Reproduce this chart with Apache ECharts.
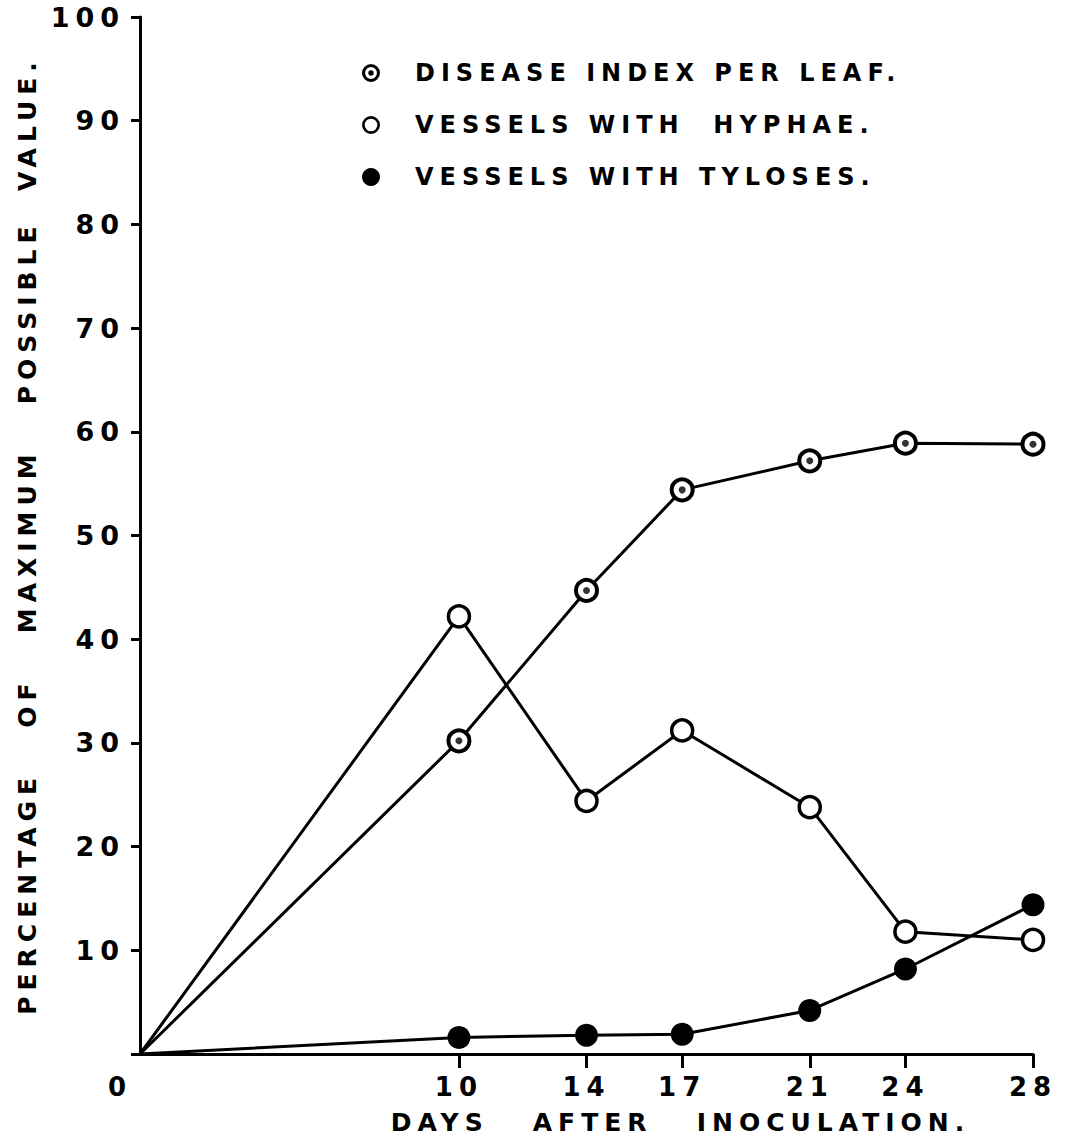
<!DOCTYPE html>
<html><head><meta charset="utf-8">
<script src="https://cdn.jsdelivr.net/npm/echarts@6/dist/echarts.min.js"></script>
<style>
html,body{margin:0;padding:0;background:#fff;}
#chart{width:1069px;height:1140px;}
#chart text{letter-spacing:6px;}
</style></head><body><div id="chart"></div>
<script>
// Data
const days = [0, 10, 14, 17, 21, 24, 28];
const diseaseIndex = [0, 30.2, 44.7, 54.4, 57.2, 58.9, 58.8];
const hyphae = [0, 42.2, 24.4, 31.2, 23.8, 11.8, 11.0];
const tyloses = [0, 1.6, 1.8, 1.9, 4.2, 8.2, 14.4];
const xTickValues = [10, 14, 17, 21, 24, 28];
const xLabelValues = [0, 10, 14, 17, 21, 24, 28];
const names = ['DISEASE INDEX PER LEAF.', 'VESSELS WITH  HYPHAE.', 'VESSELS WITH TYLOSES.'];
const yTitle = 'PERCENTAGE\u00A0\u00A0\u00A0OF\u00A0\u00A0\u00A0MAXIMUM\u00A0\u00A0\u00A0POSSIBLE\u00A0\u00A0VALUE.';
const xTitle = 'DAYS\u00A0\u00A0\u00A0AFTER\u00A0\u00A0\u00A0INOCULATION.';

const FONT = 'DejaVu Sans';
function pairs(vals) {
  return days.map((d, i) => i === 0 ? { value: [d, vals[i]], symbol: 'none' } : [d, vals[i]]);
}
const ring = 'path://M10,0A10,10,0,1,1,-10,0A10,10,0,1,1,10,0ZM7,0A7,7,0,1,0,-7,0A7,7,0,1,0,7,0Z';
const bull = 'path://M10,0A10,10,0,1,1,-10,0A10,10,0,1,1,10,0ZM6.6,0A6.6,6.6,0,1,0,-6.6,0A6.6,6.6,0,1,0,6.6,0ZM3,0A3,3,0,1,1,-3,0A3,3,0,1,1,3,0Z';

const chart = echarts.init(document.getElementById('chart'), null, { renderer: 'svg' });
chart.setOption({
  backgroundColor: '#fff',
  animation: false,
  grid: { left: 140, right: 36, top: 17, bottom: 86, containLabel: false },
  legend: {
    orient: 'vertical', left: 357, top: 56,
    itemWidth: 18, itemHeight: 18, itemGap: 28,
    selectedMode: false,
    textStyle: { fontFamily: FONT, fontWeight: 'bold', fontSize: 24, color: '#000',
      rich: { t: { fontFamily: FONT, fontWeight: 'bold', fontSize: 24, color: '#000', padding: [0, 0, 0, 30] } } },
    formatter: n => '{t|' + n + '}',
    data: [
      { name: names[0], icon: bull, itemStyle: { color: '#000', borderWidth: 0 } },
      { name: names[1], icon: ring, itemStyle: { color: '#000', borderWidth: 0 } },
      { name: names[2], icon: 'circle', itemStyle: { color: '#000', borderWidth: 0 } }
    ]
  },
  xAxis: {
    type: 'value', min: 0, max: 28,
    name: xTitle, nameLocation: 'middle', nameGap: 56,
    nameTextStyle: { fontFamily: FONT, fontWeight: 'bold', fontSize: 25, color: '#000', padding: [0, 0, 0, 188] },
    axisLine: { show: true, lineStyle: { color: '#000', width: 3 } },
    axisTick: { show: true, customValues: xTickValues, length: 14, lineStyle: { color: '#000', width: 3 } },
    axisLabel: {
      customValues: xLabelValues, margin: 20, color: '#000',
      fontFamily: FONT, fontWeight: 'bold', fontSize: 26,
      formatter: v => v === 0 ? '{z|0}' : String(v),
      rich: { z: { fontFamily: FONT, fontWeight: 'bold', fontSize: 26, color: '#000', padding: [0, 40, 0, 0] } }
    },
    splitLine: { show: false }
  },
  yAxis: {
    type: 'value', min: 0, max: 100, interval: 10, offset: 4,
    name: yTitle, nameLocation: 'middle', nameGap: 96,
    nameTextStyle: { fontFamily: FONT, fontWeight: 'bold', fontSize: 25, color: '#000' },
    axisLine: { show: true, lineStyle: { color: '#000', width: 3 } },
    axisTick: { show: true, length: 9, lineStyle: { color: '#000', width: 3 } },
    axisLabel: { margin: 11, color: '#000', fontFamily: FONT, fontWeight: 'bold', fontSize: 27,
      formatter: v => v === 0 ? '' : String(v) },
    splitLine: { show: false }
  },
  series: [
    {
      name: names[0], type: 'line', data: pairs(diseaseIndex),
      symbol: 'circle', symbolSize: 21,
      itemStyle: { color: '#fff', borderColor: '#000', borderWidth: 4 },
      lineStyle: { color: '#000', width: 3 }, z: 3
    },
    {
      name: 'disease-dot', type: 'scatter', data: days.slice(1).map((d, i) => [d, diseaseIndex[i + 1]]),
      symbol: 'circle', symbolSize: 7, itemStyle: { color: '#000' }, z: 5
    },
    {
      name: names[1], type: 'line', data: pairs(hyphae),
      symbol: 'circle', symbolSize: 21,
      itemStyle: { color: '#fff', borderColor: '#000', borderWidth: 3.5 },
      lineStyle: { color: '#000', width: 3 }, z: 3
    },
    {
      name: names[2], type: 'line', data: pairs(tyloses),
      symbol: 'circle', symbolSize: 23,
      itemStyle: { color: '#000' },
      lineStyle: { color: '#000', width: 3 }, z: 4
    }
  ]
});
</script></body></html>
